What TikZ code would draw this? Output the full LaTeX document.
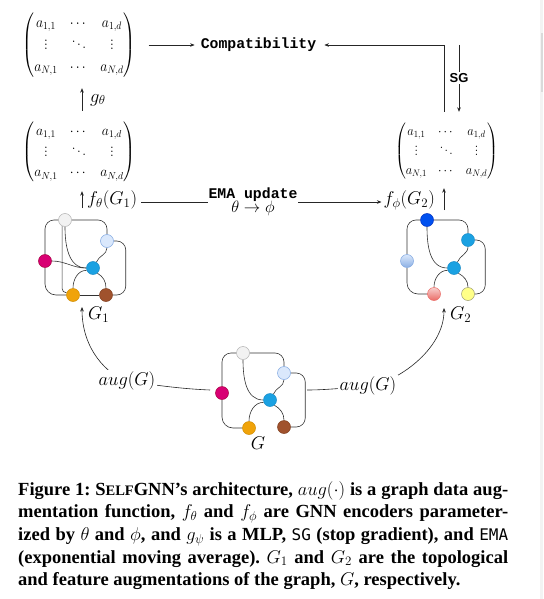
\RequirePackage{fix-cm}
\documentclass[tikz,border=0pt]{standalone}
\usepackage{amsmath}
\usepackage{graphicx}
\usepackage{fontspec}
\newfontfamily\cmonofont{Liberation Mono}
\newfontfamily\csansfont{Liberation Sans}
\newfontfamily\capfont{Liberation Serif}
\newfontfamily\capmono{DejaVu Sans Mono}
\usetikzlibrary{arrows.meta,calc}
\pgfdeclarelayer{back}
\pgfdeclarelayer{bg}
\pgfsetlayers{back,bg,main}
\definecolor{cwhite}{HTML}{F2F2F2}
\definecolor{cwhiteb}{HTML}{B0B0B0}
\definecolor{clb}{HTML}{DAE8FC}
\definecolor{clbb}{HTML}{7EA6E0}
\definecolor{cmag}{HTML}{D80073}
\definecolor{cmagb}{HTML}{A50040}
\definecolor{cblue}{HTML}{1BA1E2}
\definecolor{cblueb}{HTML}{1A8CC8}
\definecolor{corange}{HTML}{F0A30A}
\definecolor{corangeb}{HTML}{D08C00}
\definecolor{cbrown}{HTML}{A0522D}
\definecolor{cbrownb}{HTML}{803E1E}
\definecolor{cdblue}{HTML}{0050EF}
\definecolor{cdblueb}{HTML}{0030C0}
\definecolor{cpinkt}{HTML}{F8CECC}
\definecolor{cpinkb}{HTML}{EA6B66}
\definecolor{cyel}{HTML}{FFFF88}
\definecolor{cyelb}{HTML}{9A9A70}
\definecolor{cstrip}{HTML}{F3F3F3}
\definecolor{cstripd}{HTML}{DADADA}
\newcommand{\mymat}{\begin{pmatrix} a_{1,1} & \cdots & a_{1,d}\\ \vdots & \ddots & \vdots\\ a_{N,1} & \cdots & a_{N,d}\end{pmatrix}}
\newcommand{\sizedmat}[2]{\resizebox*{#1}{#2}{$\arraycolsep=6.5pt\def\arraystretch{1.2}\mymat$}}
\begin{document}
\begin{tikzpicture}[x=1pt,y=-1pt,
  gn/.style={circle, minimum size=13pt, inner sep=0pt, line width=0.5pt},
  edge/.style={line width=0.6pt, black!80},
  arr/.style={line width=0.6pt, black!85, -{Stealth[length=4.5pt,width=3.6pt]}},
  lab/.style={inner sep=2pt, font=\fontsize{18.5}{20}\selectfont},
  wlab/.style={lab, fill=white},
  matnode/.style={inner sep=0pt, font=\fontsize{14.5}{17}\selectfont},
  gwhite/.style={gn, fill=cwhite, draw=cwhiteb},
  glb/.style={gn, fill=clb, draw=clbb},
  gmag/.style={gn, fill=cmag, draw=cmagb},
  gblue/.style={gn, fill=cblue, draw=cblueb},
  gorange/.style={gn, fill=corange, draw=corangeb},
  gbrown/.style={gn, fill=cbrown, draw=cbrownb},
  gdblue/.style={gn, fill=cdblue, draw=cdblueb},
  glbgrad/.style={gn, top color=clb, bottom color=clbb!90, draw=clbb},
  gpink/.style={gn, top color=cpinkt, bottom color=cpinkb, draw=cpinkb},
  gyel/.style={gn, fill=cyel, draw=cyelb},
  rc/.style={rounded corners=#1}
]
\useasboundingbox (0,0) rectangle (543,599);
\begin{pgfonlayer}{back}
\fill[white] (0,0) rectangle (543,599);
\fill[cstrip] (539.5,0) rectangle (543,599);
\fill[cstripd] (541.2,33) rectangle (543,92);
\end{pgfonlayer}

% matrices
\node[matnode] (m1) at (79,45) {\sizedmat{113pt}{66pt}};
\node[matnode] (m2) at (79,152) {\sizedmat{113pt}{62pt}};
\node[matnode] (m3) at (446.5,151) {\sizedmat{103pt}{58pt}};

% top labels
\node[inner sep=2pt, font=\cmonofont\bfseries\fontsize{14.8}{16}\selectfont] (compat) at (258.5,45) {Compatibility};
\node[lab, anchor=west] (gth) at (88,100) {$g_\theta$};
\node[lab, anchor=west] (fth) at (85,200) {$f_\theta(G_1)$};
\node[lab, anchor=east] (fph) at (437,200) {$f_\phi(G_2)$};
\node[fill=white, inner sep=1pt, align=center] (ema) at (253,202)
  {{\cmonofont\bfseries\fontsize{14.8}{16}\selectfont EMA update}\\[-2pt]{\fontsize{16.5}{17}\selectfont$\theta\to\phi$}};
\node[fill=white, inner sep=1.5pt, font=\csansfont\bfseries\fontsize{13}{14}\selectfont] (sg) at (459,78) {SG};

\coordinate (a1) at (82,208);
\coordinate (a2) at (444,210);
\coordinate (sgtop) at (459,45);

% graph G1
\node[gwhite] (w1) at (65,220) {};
\node[glb] (lb1) at (107,241) {};
\node[gmag] (mg1) at (45,261) {};
\node[gblue] (b1) at (93,268) {};
\node[gorange] (o1) at (73,295) {};
\node[gbrown] (br1) at (106,295) {};
% graph G2
\node[gdblue] (w2) at (427,220) {};
\node[gblue] (lb2) at (468,240) {};
\node[glbgrad] (mg2) at (407,261) {};
\node[gblue] (b2) at (454,268) {};
\node[gpink] (o2) at (434,294) {};
\node[gyel] (br2) at (468,294) {};
% graph G
\node[gwhite] (w3) at (243,353) {};
\node[glb] (lb3) at (284,373) {};
\node[gmag] (mg3) at (222,393) {};
\node[gblue] (b3) at (270,400) {};
\node[gorange] (o3) at (249,428) {};
\node[gbrown] (br3) at (284,427) {};

\node[lab, anchor=west] (g1lab) at (86,315) {$G_1$};
\node[lab, anchor=west] (g2lab) at (448,315) {$G_2$};
\node[lab] (glab) at (258,443) {$G$};
\node[wlab] (augL) at (127,381) {$aug(G)$};
\node[wlab] (augR) at (368,386) {$aug(G)$};
\coordinate (gL) at (210,390);
\coordinate (gR) at (307,390);
\coordinate (g1tip) at (82,307);
\coordinate (g2tip) at (444,308);

% caption
\node[anchor=north west, inner sep=0pt, text width=490pt, align=justify,
  font=\capfont\bfseries\fontsize{18.5}{22.7}\selectfont] (cap) at (18,481)
 {\frenchspacing\hyphenpenalty=10000 Figure 1: S{\fontsize{14.5}{14}\selectfont ELF}GNN’s architecture, $aug(\cdot)$ is a graph data aug-\linebreak
 mentation function, $f_\theta$ and $f_\phi$ are GNN encoders parameter-\linebreak
 ized by $\theta$ and $\phi$, and $g_\psi$ is a MLP, {\capmono\mdseries\fontsize{16}{18}\selectfont SG} (stop gradient), and {\capmono\mdseries\fontsize{16}{18}\selectfont EMA}\linebreak
 (exponential moving average). $G_1$ and $G_2$ are the topological\linebreak
 and feature augmentations of the graph, $G$, respectively.};

\begin{pgfonlayer}{bg}
% top connectors
\draw[arr, shorten <=13pt, shorten >=4pt] (m1.east) -- (compat.west);
\draw[arr, shorten <=10pt, shorten >=6pt] ([xshift=-2.5pt]m3.north) |- (compat.east);
\draw[arr, shorten >=10pt] (sgtop) -- (sgtop |- m3.north);
\draw[arr, shorten <=10pt, shorten >=10pt] ([xshift=3pt]m2.north) -- ([xshift=3pt]m1.south);
\draw[arr, shorten >=8pt] (a1) -- (a1 |- m2.south);
\draw[arr, shorten >=8pt] (a2) -- (a2 |- m3.south);
\draw[arr, shorten <=2pt] (fth.east |- ema) -- (fph.west |- ema);

% G1 edges
\draw[edge, rc=9pt] (w1.east) -| (lb1.north);
\draw[edge, rc=9pt] (w1.west) -| (mg1.north);
\draw[edge, rc=4pt] (w1.-115) |- (o1.160);
\draw[edge] (w1.south) to[out=-90,in=180] (b1.west);
\draw[edge] (mg1.east) to[out=0,in=180] (b1.west);
\draw[edge, rc=11pt] (mg1.south) |- (o1.west);
\draw[edge] (lb1.south) to[out=-90,in=70] (b1.60);
\draw[edge, rc=9pt] (lb1.east) -- ++(12,0) |- (br1.east);
\draw[edge] (b1.200) to[out=180,in=90] (o1.north);
\draw[edge] (b1.-50) to[out=-30,in=90] (br1.north);
\draw[edge] (o1) -- (br1);

% G2 edges
\draw[edge, rc=9pt] (w2.east) -| (lb2.north);
\draw[edge, rc=9pt] (w2.west) -| (mg2.north);
\draw[edge] (w2.south) to[out=-90,in=180] (b2.west);
\draw[edge, rc=11pt] (mg2.south) |- (o2.west);
\draw[edge] (lb2.south) to[out=-90,in=70] (b2.60);
\draw[edge, rc=9pt] (lb2.east) -- ++(10.5,0) |- (br2.east);
\draw[edge] (b2.200) to[out=180,in=90] (o2.north);
\draw[edge] (b2.-50) to[out=-30,in=90] (br2.north);

% G edges
\draw[edge, rc=9pt] (w3.east) -| (lb3.north);
\draw[edge, rc=9pt] (w3.west) -| (mg3.north);
\draw[edge] (w3.south) to[out=-90,in=180] (b3.west);
\draw[edge, rc=11pt] (mg3.south) |- (o3.west);
\draw[edge] (lb3.south) to[out=-90,in=70] (b3.60);
\draw[edge, rc=9pt] (lb3.east) -- ++(14.5,0) |- (br3.east);
\draw[edge] (b3.200) to[out=180,in=90] (o3.north);
\draw[edge] (b3.-50) to[out=-30,in=90] (br3.north);

% augmentation connectors
\draw[arr] (gL) .. controls (185,389) and (160,386) .. (augL.center)
  .. controls (108,375) and (82,350) .. (g1tip);
\draw[arr] (gR) .. controls (325,390) and (345,388) .. (augR.center)
  .. controls (396,383) and (444,350) .. (g2tip);
\end{pgfonlayer}
\end{tikzpicture}
\end{document}
